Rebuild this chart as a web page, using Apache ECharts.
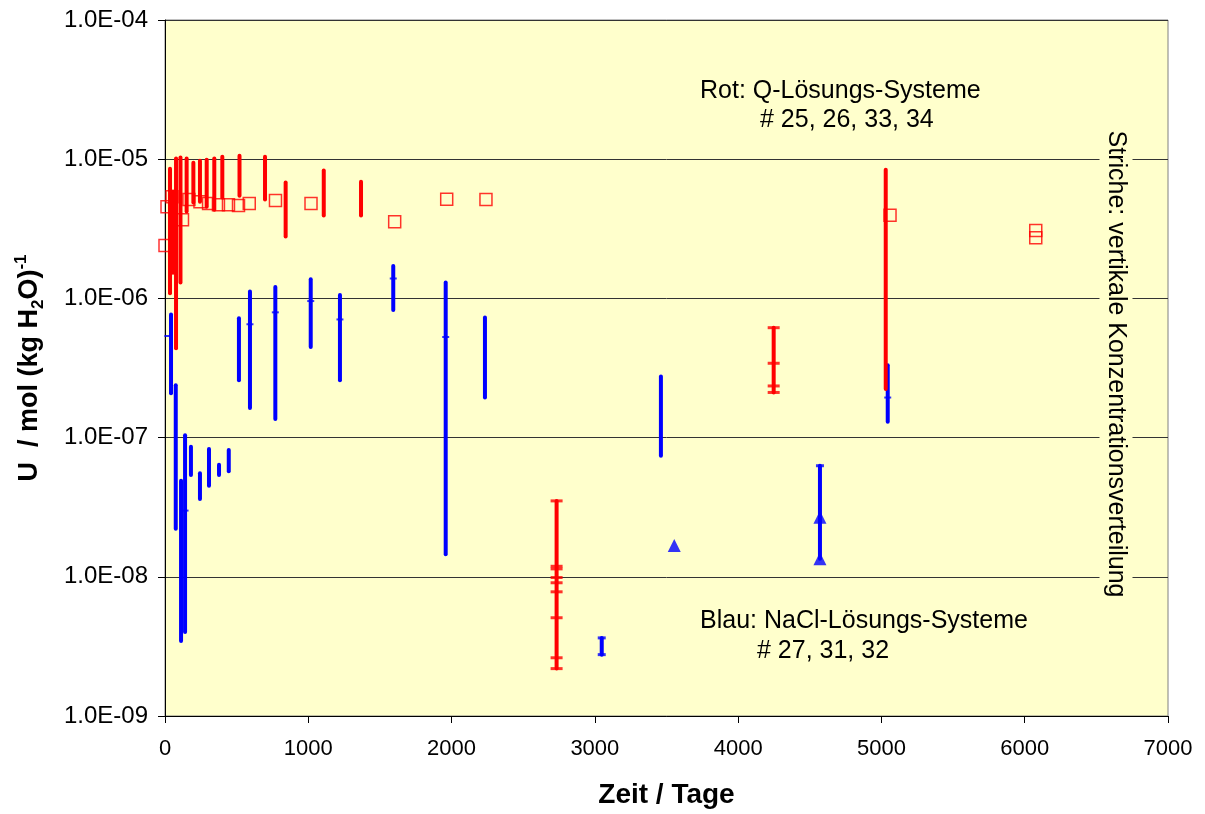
<!DOCTYPE html>
<html>
<head>
<meta charset="utf-8">
<script src="https://cdn.jsdelivr.net/npm/echarts@6/dist/echarts.min.js"></script>
<style>html,body{margin:0;padding:0;background:#fff}#c{width:1205px;height:814px}</style>
</head>
<body>
<div id="c"></div>
<script>
// ---- data (days, U concentration in mol/kg H2O) ----
const xTicks = [0, 1000, 2000, 3000, 4000, 5000, 6000, 7000];
const yTickLabels = ['1.0E-09', '1.0E-08', '1.0E-07', '1.0E-06', '1.0E-05', '1.0E-04'];

// red: Q-solution systems, vertical concentration ranges [day, low, high]
const redRanges = [
  [35, 1.09e-6, 8.55e-6], [56, 1.53e-6, 5.85e-6], [77, 4.38e-7, 1.01e-5],
  [108, 1.30e-6, 1.03e-5], [151, 4.21e-6, 1.01e-5], [198, 4.88e-6, 9.44e-6],
  [244, 4.95e-6, 9.75e-6], [291, 4.56e-6, 9.9e-6], [344, 4.34e-6, 1.01e-5],
  [400, 5.3e-6, 1.04e-5], [520, 5.47e-6, 1.06e-5], [698, 5.13e-6, 1.04e-5],
  [842, 2.78e-6, 6.79e-6], [1108, 3.94e-6, 8.28e-6], [1368, 3.94e-6, 6.9e-6],
  [2733, 2.19e-9, 3.51e-8], [4248, 2.11e-7, 6.16e-7], [5030, 2.23e-7, 8.41e-6]
];
// red: single values (open squares)
const redSquares = [
  [0, 2.40e-6], [14, 4.56e-6], [49, 5.38e-6], [122, 3.68e-6], [167, 5.13e-6],
  [244, 4.95e-6], [304, 4.81e-6], [373, 4.70e-6], [443, 4.70e-6], [513, 4.64e-6],
  [588, 4.81e-6], [771, 5.05e-6], [1019, 4.81e-6], [1603, 3.55e-6], [1966, 5.15e-6],
  [2240, 5.13e-6], [5060, 3.95e-6], [6077, 3.07e-6], [6077, 2.73e-6]
];
// red: error-bar caps / dash markers
const redTicks = [
  [2733, 3.51e-8], [2733, 1.19e-8], [2733, 1.14e-8], [2733, 9.88e-9], [2733, 9.06e-9],
  [2733, 7.80e-9], [2733, 5.08e-9], [2733, 2.62e-9], [2733, 2.19e-9],
  [4248, 6.16e-7], [4248, 3.42e-7], [4248, 2.35e-7], [4248, 2.11e-7]
];

// blue: NaCl-solution systems, vertical concentration ranges [day, low, high]
const blueRanges = [
  [42, 2.08e-7, 7.67e-7], [75, 2.21e-8, 2.38e-7], [112, 3.46e-9, 4.90e-8],
  [140, 4.02e-9, 1.04e-7], [181, 5.38e-8, 8.59e-8], [244, 3.62e-8, 5.54e-8],
  [307, 4.51e-8, 8.27e-8], [377, 5.38e-8, 6.38e-8], [445, 5.73e-8, 8.13e-8],
  [516, 2.58e-7, 7.19e-7], [593, 1.63e-7, 1.12e-6], [770, 1.36e-7, 1.21e-6],
  [1017, 4.48e-7, 1.37e-6], [1221, 2.58e-7, 1.06e-6], [1593, 8.24e-7, 1.71e-6],
  [1959, 1.45e-8, 1.30e-6], [2233, 1.94e-7, 7.28e-7], [3048, 2.76e-9, 3.64e-9],
  [3461, 7.41e-8, 2.75e-7], [4571, 1.35e-8, 6.28e-8], [5044, 1.30e-7, 3.31e-7]
];
// blue: dash markers inside the ranges
const blueMarks = [
  [20, 5.37e-7], [593, 6.52e-7], [770, 7.94e-7], [1017, 9.57e-7], [1221, 7.06e-7],
  [1593, 1.39e-6], [1959, 5.28e-7], [5044, 1.94e-7], [140, 2.99e-8]
];
// blue: error-bar caps
const blueCaps = [[3048, 3.64e-9], [3048, 2.76e-9], [4571, 6.28e-8]];
// blue: single values (filled triangles)
const blueTriangles = [[3554, 1.68e-8], [4571, 2.68e-8], [4571, 1.35e-8]];

const RED = '#FF0000', BLUE = '#0000FF';
const FONT = '"Liberation Sans", Arial, sans-serif';

function rangeSeries(name, data, color) {
  return {
    type: 'custom', name: name, data: data,
    encode: { x: 0, y: [1, 2] },
    renderItem: function (params, api) {
      const p1 = api.coord([api.value(0), api.value(1)]);
      const p2 = api.coord([api.value(0), api.value(2)]);
      return {
        type: 'line',
        shape: { x1: p1[0], y1: p1[1], x2: p2[0], y2: p2[1] },
        style: { stroke: color, lineWidth: 4, lineCap: 'round' }
      };
    },
    z: 3
  };
}

function txt(s, x, y) {
  return { type: 'text', x: x, y: y, z: 10,
    style: { text: s, font: '25px ' + FONT, fill: '#000', align: 'left', verticalAlign: 'middle',
      textAlign: 'left', textVerticalAlign: 'middle' } };
}

const chart = echarts.init(document.getElementById('c'), null, { renderer: 'canvas' });
chart.setOption({
  animation: false,
  backgroundColor: '#ffffff',
  grid: {
    left: 165, right: 37, top: 20, bottom: 97,
    show: true, backgroundColor: '#FFFFCC', borderColor: '#808080', borderWidth: 1
  },
  xAxis: {
    type: 'value', min: xTicks[0], max: xTicks[xTicks.length - 1], interval: 1000,
    name: 'Zeit / Tage', nameLocation: 'middle', nameGap: 65,
    nameTextStyle: { fontFamily: FONT, fontSize: 28, fontWeight: 'bold', color: '#000' },
    axisLine: { lineStyle: { color: '#000', width: 1 } },
    axisTick: { show: true, length: 7, lineStyle: { color: '#000' } },
    axisLabel: { fontFamily: FONT, fontSize: 22, color: '#000', margin: 22,
      formatter: function (v) { return String(xTicks[Math.round(v / 1000)]); } },
    splitLine: { show: false }
  },
  yAxis: {
    type: 'log', logBase: 10, min: 1e-9, max: 1e-4,
    name: '{m|U  / mol (kg H}{s|2}{m|O)}{p|-1}',
    nameLocation: 'middle', nameRotate: 90, nameGap: 118,
    nameTextStyle: {
      rich: {
        m: { fontFamily: FONT, fontSize: 27, fontWeight: 'bold', color: '#000', lineHeight: 34, verticalAlign: 'middle' },
        s: { fontFamily: FONT, fontSize: 17, fontWeight: 'bold', color: '#000', lineHeight: 17, verticalAlign: 'bottom' },
        p: { fontFamily: FONT, fontSize: 17, fontWeight: 'bold', color: '#000', lineHeight: 17, verticalAlign: 'top' }
      }
    },
    axisLine: { show: true, lineStyle: { color: '#000', width: 1 } },
    axisTick: { show: true, length: 7, lineStyle: { color: '#000' } },
    minorTick: { show: false },
    axisLabel: {
      fontFamily: FONT, fontSize: 24, color: '#000', margin: 17,
      formatter: function (v) {
        const e = Math.round(Math.log10(v));
        return yTickLabels[e + 9];
      }
    },
    splitLine: { show: true, lineStyle: { color: '#333333', width: 1 } }
  },
  graphic: [
    txt('Rot: Q-Lösungs-Systeme', 700, 91),
    txt('# 25, 26, 33, 34', 760, 120),
    txt('Blau: NaCl-Lösungs-Systeme', 700, 621),
    txt('# 27, 31, 32', 757, 651),
    { type: 'text', x: 1116, y: 364, rotation: -Math.PI / 2, z: 10,
      style: { text: 'Striche: vertikale Konzentrationsverteilung', font: '25px ' + FONT, fill: '#000',
        align: 'center', verticalAlign: 'middle', textAlign: 'center', textVerticalAlign: 'middle',
        backgroundColor: '#FFFFCC', padding: [4, 6] } }
  ],
  series: [
    rangeSeries('blueRanges', blueRanges, BLUE),
    rangeSeries('redRanges', redRanges, RED),
    { type: 'scatter', name: 'blueMarks', data: blueMarks, symbol: 'rect', symbolSize: [7, 2],
      itemStyle: { color: BLUE }, z: 4 },
    { type: 'scatter', name: 'blueCaps', data: blueCaps, symbol: 'rect', symbolSize: [8, 3],
      itemStyle: { color: BLUE }, z: 4 },
    { type: 'scatter', name: 'blueTriangles', data: blueTriangles, symbol: 'triangle', symbolSize: 13,
      itemStyle: { color: BLUE }, z: 5 },
    { type: 'scatter', name: 'redTicks', data: redTicks, symbol: 'rect', symbolSize: [12, 3],
      itemStyle: { color: RED }, z: 4 },
    { type: 'scatter', name: 'redSquares', data: redSquares, symbol: 'rect', symbolSize: 12,
      itemStyle: { color: 'rgba(0,0,0,0)', borderColor: RED, borderWidth: 1.5 }, z: 5 }
  ]
});
</script>
</body>
</html>
